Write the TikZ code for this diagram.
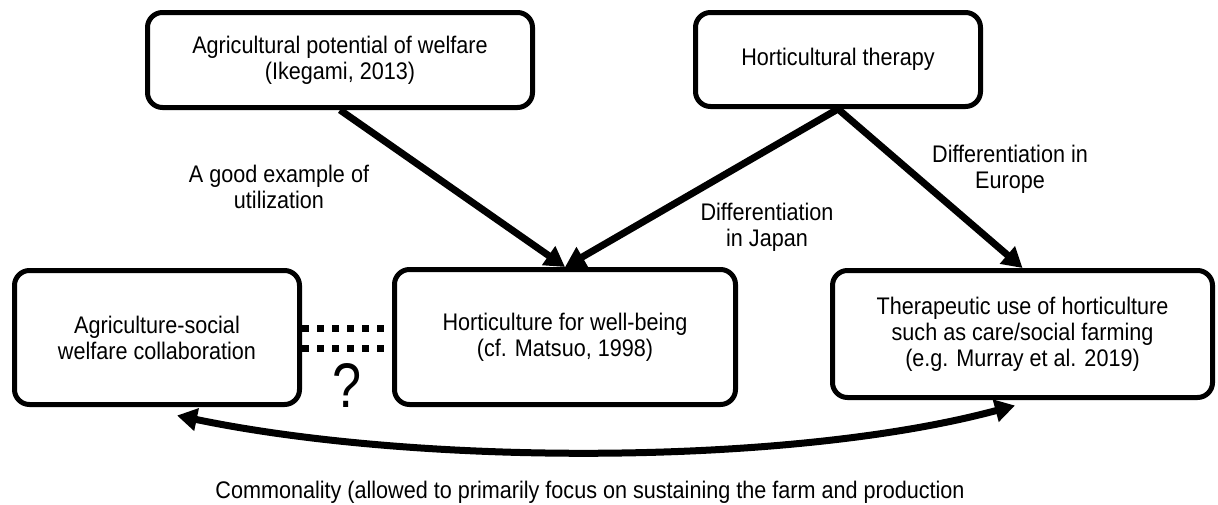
\documentclass[tikz,border=0pt]{standalone}
\usepackage{graphicx}
\usepackage{fontspec}
\setmainfont{Liberation Sans}
\newfontfamily\narrowsans[FakeStretch=0.9]{Liberation Sans}
\usetikzlibrary{arrows.meta,calc}
\begin{document}
\begin{tikzpicture}[x=1pt,y=-1pt,
  box/.style={draw=black,line width=5pt,rounded corners=15pt,fill=white,
    inner sep=0pt,align=center,anchor=center,
    font=\narrowsans\fontsize{24pt}{26pt}\selectfont},
  lbl/.style={inner sep=0pt,align=center,font=\narrowsans\fontsize{24pt}{26pt}\selectfont},
  arr/.style={line width=7pt,-{Triangle[length=20pt,width=22pt]}},
  dualarr/.style={line width=7pt,{Triangle[length=20pt,width=22pt]}-{Triangle[length=20pt,width=22pt]}},
  dotline/.style={line width=7pt,dash pattern=on 7pt off 8pt}]
\useasboundingbox[fill=white] (0,0) rectangle (1218,504);
\node[box,minimum width=385pt,minimum height=95pt] (A) at (340,60)
  {Agricultural potential of welfare\\(Ikegami, 2013)};
\node[box,minimum width=285pt,minimum height=94pt] (B) at (838,59.5)
  {Horticultural therapy};
\node[box,minimum width=285pt,minimum height=134pt] (C) at (157,337.5)
  {Agriculture-social\\welfare collaboration};
\node[box,minimum width=341pt,minimum height=135pt] (D) at (565,337)
  {Horticulture for well-being\\(cf. Matsuo, 1998)};
\node[box,minimum width=380pt,minimum height=127pt] (E) at (1022.5,334)
  {Therapeutic use of horticulture\\such as care/social farming\\(e.g. Murray et al. 2019)};
\draw[arr] (A.south) -- (D.north);
\draw[arr] (B.south) -- (D.north);
\draw[arr] (B.south) -- (E.north);
\node[lbl] (l1) at (279,187) {A good example of\\utilization};
\node[lbl] (l2) at (767,227) {Differentiation\\in Japan};
\node[lbl] (l3) at (1010,169) {Differentiation in\\Europe};
\draw[dotline] (C.east |- 0,328) -- (D.west |- 0,328);
\draw[dotline] (C.east |- 0,348) -- (D.west |- 0,348);
\node[inner sep=0pt,anchor=base,font=\narrowsans] (q) at (347,407) {\resizebox{29pt}{44pt}{?}};
\coordinate (cl) at ([shift={(20,8.5)}]C.south);
\coordinate (cr) at ([shift={(-7.5,5.5)}]E.south);
\draw[dualarr] (cl) .. controls (420,466) and (790,466) .. (cr);
\node[lbl,anchor=base] (com) at (590,498) {Commonality (allowed to primarily focus on sustaining the farm and production};
\end{tikzpicture}
\end{document}
